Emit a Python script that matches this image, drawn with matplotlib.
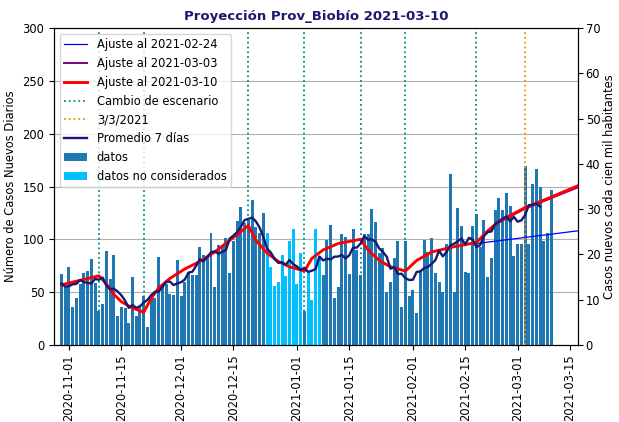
import numpy as np
import pandas as pd
import matplotlib
matplotlib.use('Agg')
import matplotlib.pyplot as plt
import matplotlib.dates as mdates

# casos diarios desde 2020-10-30 hasta 2021-03-10
inicio = '2020-10-30'
casos = [67, 55,
         74, 36, 44, 58, 68, 70, 81, 59, 32, 39, 89, 62, 85, 27, 36, 35, 21, 64,
         27, 36, 46, 17, 46, 44, 83, 58, 58, 48, 47, 80,
         46, 60, 69, 66, 66, 93, 85, 84, 106, 55, 95, 95, 101, 68, 98, 117, 131,
         115, 118, 137, 112, 106, 125, 106, 74, 56, 60, 85, 65, 98, 110,
         58, 87, 32, 70, 43, 110, 84, 66, 99, 114, 44, 55, 105, 102, 67, 110, 90,
         66, 105, 105, 129, 116, 87, 92, 50, 60, 82, 98, 36, 98, 46,
         52, 30, 71, 99, 88, 101, 68, 60, 50, 96, 162, 50, 130, 113, 69, 68, 113,
         124, 93, 118, 64, 82, 128, 139, 128, 144, 132, 84,
         96, 96, 169, 96, 152, 167, 150, 98, 106, 147]
no_considerados = ['2020-12-24', '2020-12-25', '2020-12-26', '2020-12-27', '2020-12-28',
                   '2020-12-29', '2020-12-30', '2020-12-31', '2021-01-01', '2021-01-02',
                   '2021-01-04', '2021-01-05', '2021-01-06', '2021-01-07']
cambios = ['2020-11-09', '2020-11-21', '2020-12-19', '2021-01-03',
           '2021-01-18', '2021-01-30', '2021-02-18']
fecha_33 = '2021-03-03'

aj10_fechas = ['2020-10-30', '2020-11-02', '2020-11-05', '2020-11-09', '2020-11-11',
               '2020-11-13', '2020-11-15', '2020-11-18', '2020-11-21', '2020-11-23',
               '2020-11-25', '2020-11-28', '2020-12-02', '2020-12-06', '2020-12-10',
               '2020-12-14', '2020-12-19', '2020-12-21', '2020-12-24', '2020-12-27',
               '2020-12-30', '2021-01-03', '2021-01-05', '2021-01-08', '2021-01-12',
               '2021-01-18', '2021-01-20', '2021-01-23', '2021-01-26', '2021-01-30',
               '2021-02-02', '2021-02-06', '2021-02-12', '2021-02-18', '2021-02-21',
               '2021-02-24', '2021-03-03', '2021-03-10', '2021-03-17']
aj10_vals = [57, 59.5, 62, 65.5, 58, 48, 41, 35, 31, 44, 54, 63, 72, 79, 88, 99, 113,
             99, 87, 79, 74, 70, 82, 90, 96, 100, 90, 80, 74, 70, 80, 88, 93, 97, 108,
             117, 130, 140, 150.5]
aj03_fechas = ['2021-02-18', '2021-02-21', '2021-02-24', '2021-03-03', '2021-03-10', '2021-03-17']
aj03_vals = [97, 107.5, 116, 129, 139, 149]
aj24_fechas = ['2021-02-18', '2021-03-17']
aj24_vals = [96, 108]

fechas = pd.date_range(inicio, periods=len(casos), freq='D')
serie = pd.Series(casos, index=fechas, dtype=float)
promedio = serie.rolling(7, center=True, min_periods=4).mean().iloc[:-3]
excluidos = fechas.isin(pd.to_datetime(no_considerados))

fig = plt.figure(figsize=(6.19, 4.22), dpi=100)
ax = fig.add_axes([0.0872, 0.1825, 0.8466, 0.7511])
fs = 8.3

ax.bar(fechas[~excluidos], serie[~excluidos], width=0.8, color='#1f77b4', label='datos', zorder=2)
ax.bar(fechas[excluidos], serie[excluidos], width=0.8, color='#00bfff',
       label='datos no considerados', zorder=2)

ax.plot(pd.to_datetime(aj24_fechas), aj24_vals, color='blue', lw=0.9,
        label='Ajuste al 2021-02-24', zorder=3)
ax.plot(pd.to_datetime(aj03_fechas), aj03_vals, color='purple', lw=1.4,
        label='Ajuste al 2021-03-03', zorder=3)
ax.plot(pd.to_datetime(aj10_fechas), aj10_vals, color='red', lw=2.1,
        label='Ajuste al 2021-03-10', zorder=4)
for i, c in enumerate(cambios):
    ax.axvline(pd.Timestamp(c), color='darkcyan', ls=':', lw=1.3, zorder=3,
               label='Cambio de escenario' if i == 0 else None)
ax.axvline(pd.Timestamp(fecha_33), color='darkorange', ls=':', lw=1.3, zorder=3, label='3/3/2021')
ax.plot(promedio.index, promedio.values, color='midnightblue', lw=1.7,
        label='Promedio 7 días', zorder=5)

ax.set_xlim(pd.Timestamp('2020-10-28'), pd.Timestamp('2021-03-17 04:00'))
ax.set_ylim(0, 300)
ax.set_yticks(np.arange(0, 301, 50))
ax.yaxis.grid(True, color='#b0b0b0', lw=0.8, zorder=0)
ax.set_axisbelow(True)
ticks = pd.to_datetime(['2020-11-01', '2020-11-15', '2020-12-01', '2020-12-15', '2021-01-01',
                        '2021-01-15', '2021-02-01', '2021-02-15', '2021-03-01', '2021-03-15'])
ax.set_xticks(ticks)
ax.xaxis.set_major_formatter(mdates.DateFormatter('%Y-%m-%d'))
ax.tick_params(axis='x', labelrotation=90, labelsize=fs)
ax.tick_params(axis='y', labelsize=fs)
ax.set_ylabel('Número de Casos Nuevos Diarios', fontsize=fs)
ax.set_title('Proyección Prov_Biobío 2021-03-10', fontsize=fs * 1.15,
             fontweight='bold', color='midnightblue')

h, l = ax.get_legend_handles_labels()
orden = ['Ajuste al 2021-02-24', 'Ajuste al 2021-03-03', 'Ajuste al 2021-03-10',
         'Cambio de escenario', '3/3/2021', 'Promedio 7 días', 'datos', 'datos no considerados']
hd = dict(zip(l, h))
ax.legend([hd[k] for k in orden], orden, loc='upper left', fontsize=fs)

ax2 = ax.twinx()
ax2.set_ylim(0, 70)
ax2.set_yticks(np.arange(0, 71, 10))
ax2.tick_params(axis='y', labelsize=fs, pad=2)
ax2.set_ylabel('Casos nuevos cada cien mil habitantes', fontsize=fs, labelpad=2)

fig.savefig('out.png', dpi=100)
